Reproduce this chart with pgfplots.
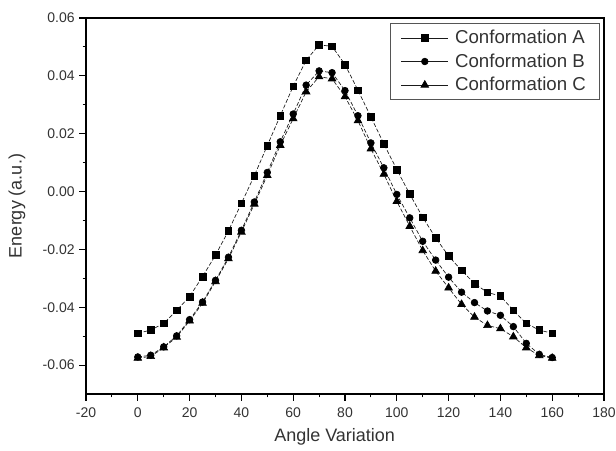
\documentclass[border=0pt]{standalone}
\usepackage{fontspec}
\setmainfont{Liberation Sans}
\usepackage{xcolor}
\usepackage{pgfplots}
\pgfplotsset{compat=1.18}
\definecolor{inkline}{HTML}{1A1A1A}
\definecolor{tickgray}{HTML}{333333}
\definecolor{framegray}{HTML}{555555}

\pgfplotstableread{
x y
0 -0.0490
5 -0.0479
10 -0.0456
15 -0.0411
20 -0.0363
25 -0.0294
30 -0.0220
35 -0.0136
40 -0.0041
45 0.0055
50 0.0159
55 0.0262
60 0.0364
65 0.0454
70 0.0507
75 0.0502
80 0.0439
85 0.0350
90 0.0258
95 0.0165
100 0.0076
105 -0.0009
110 -0.0089
115 -0.0160
120 -0.0223
125 -0.0273
130 -0.0318
135 -0.0349
140 -0.0361
145 -0.0411
150 -0.0456
155 -0.0479
160 -0.0490
}\confA

\pgfplotstableread{
x y
0 -0.0572
5 -0.0566
10 -0.0537
15 -0.0499
20 -0.0443
25 -0.0382
30 -0.0307
35 -0.0227
40 -0.0134
45 -0.0036
50 0.0066
55 0.0172
60 0.0268
65 0.0368
70 0.0417
75 0.0411
80 0.0349
85 0.0262
90 0.0168
95 0.0082
100 -0.0010
105 -0.0091
110 -0.0172
115 -0.0237
120 -0.0296
125 -0.0348
130 -0.0384
135 -0.0413
140 -0.0428
145 -0.0467
150 -0.0525
155 -0.0563
160 -0.0574
}\confB

\pgfplotstableread{
x y
0 -0.0576
5 -0.0570
10 -0.0540
15 -0.0503
20 -0.0447
25 -0.0386
30 -0.0311
35 -0.0232
40 -0.0140
45 -0.0043
50 0.0056
55 0.0160
60 0.0252
65 0.0345
70 0.0397
75 0.0390
80 0.0328
85 0.0245
90 0.0148
95 0.0060
100 -0.0034
105 -0.0120
110 -0.0204
115 -0.0275
120 -0.0333
125 -0.0390
130 -0.0434
135 -0.0463
140 -0.0474
145 -0.0502
150 -0.0540
155 -0.0567
160 -0.0576
}\confC

\pgfplotsset{
  confline/.style={
    inkline, line width=0.5pt, dash pattern=on 3pt off 1.5pt,
    mark options={solid, fill=black, draw=black},
  },
}

\begin{document}
\begin{tikzpicture}
  \begin{axis}[
      scale only axis,
      width=388.5pt, height=282pt,
      xmin=-20, xmax=180, ymin=-0.07, ymax=0.06,
      xtick={-20,0,...,180},
      ytick={-0.06,-0.04,...,0.06},
      minor x tick num=1, minor y tick num=1,
      xtick pos=left, ytick pos=left,
      tick align=outside,
      major tick length=5pt, minor tick length=2.5pt,
      axis line style={black, line width=0.9pt},
      tick style={black, line width=0.8pt},
      scaled y ticks=false,
      /pgf/number format/assume math mode=true,
      yticklabel style={/pgf/number format/.cd, fixed, fixed zerofill, precision=2},
      tick label style={font=\fontsize{10.5}{12.5}\selectfont, text=tickgray},
      xticklabel style={yshift=-1.5pt},
      xlabel={Angle Variation},
      ylabel={Energy (a.u.)},
      label style={font=\fontsize{13.5}{16}\selectfont, text=tickgray},
      xlabel style={at={(axis description cs:0.48,-0.1144)}, anchor=center},
      ylabel style={at={(axis description cs:-0.1332,0.5)}, anchor=center},
      legend style={
        at={(rel axis cs:0.992,0.987)}, anchor=north east,
        draw=framegray, line width=1pt,
        font=\fontsize{14}{16}\selectfont, text=tickgray,
        inner xsep=8pt, inner ysep=3pt, row sep=2pt, column sep=3pt,
      },
      legend cell align=left,
      legend image code/.code={
        \draw[mark repeat=2, mark phase=2, #1, solid, line width=0.5pt]
          plot coordinates {(0pt,0pt) (17.5pt,0pt) (35pt,0pt)};
      },
    ]
    \addplot[confline, mark=square*, mark size=2.5pt] table[x=x, y=y] {\confA};
    \addlegendentry{Conformation A}
    \addplot[confline, mark=*, mark size=2.5pt] table[x=x, y=y] {\confB};
    \addlegendentry{Conformation B}
    \addplot[confline, mark=triangle*, mark size=3.3pt] table[x=x, y=y] {\confC};
    \addlegendentry{Conformation C}
  \end{axis}
  \pgfresetboundingbox
  \path (current axis.south west) ++(-64.5pt,-42.75pt) coordinate (bbsw);
  \path (current axis.north east) ++(9pt,13.5pt) coordinate (bbne);
  \path[use as bounding box] (bbsw) rectangle (bbne);
\end{tikzpicture}
\end{document}
